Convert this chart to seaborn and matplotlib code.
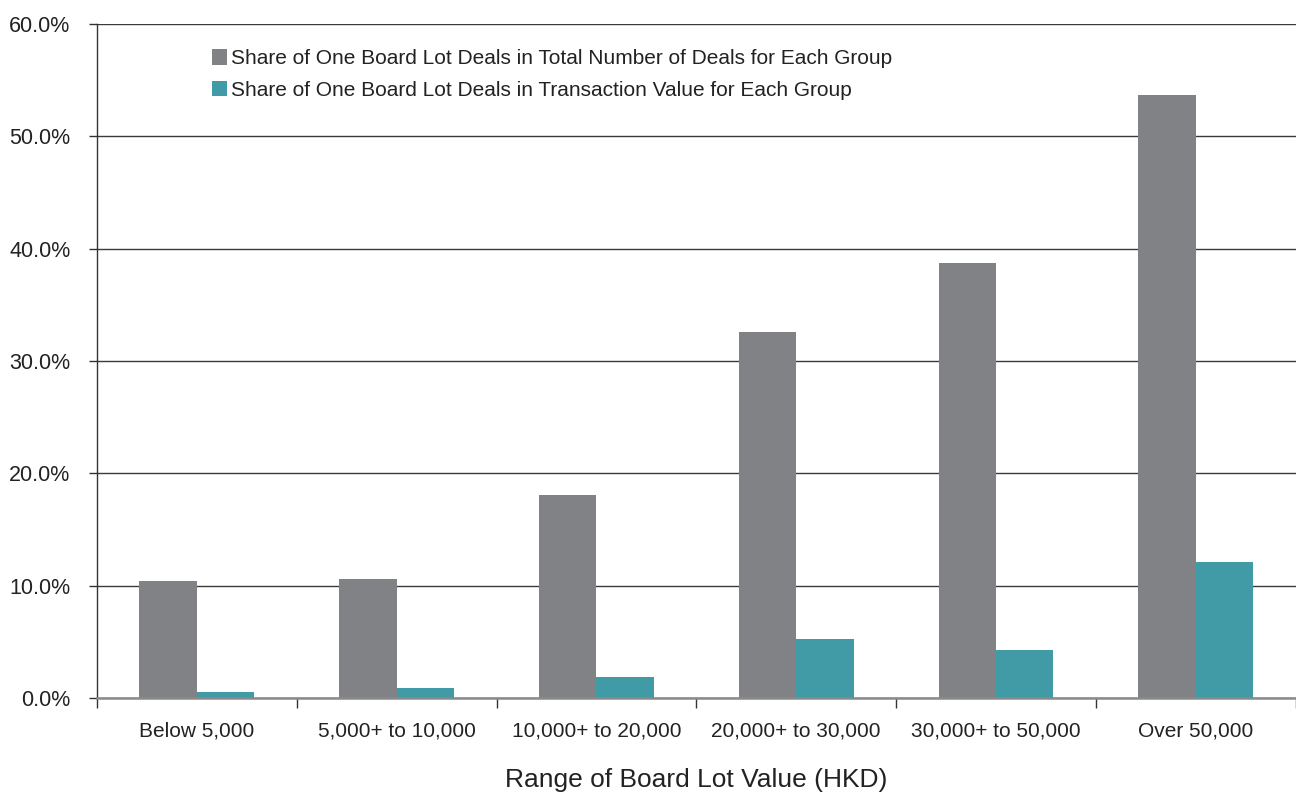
import pandas as pd
import numpy as np
import seaborn as sns
import matplotlib.pyplot as plt
from matplotlib.ticker import PercentFormatter, FixedLocator

categories = ["Below 5,000", "5,000+ to 10,000", "10,000+ to 20,000",
              "20,000+ to 30,000", "30,000+ to 50,000", "Over 50,000"]
share_deals = [10.4, 10.6, 18.1, 32.6, 38.7, 53.7]
share_value = [0.55, 0.9, 1.85, 5.25, 4.25, 12.1]
series = ["Share of One Board Lot Deals in Total Number of Deals for Each Group",
          "Share of One Board Lot Deals in Transaction Value for Each Group"]
colors = ["#818286", "#409ba6"]

df = pd.DataFrame({
    "range": categories * 2,
    "share": share_deals + share_value,
    "series": [series[0]] * len(categories) + [series[1]] * len(categories),
})

sns.set_style("white")
plt.rcParams["font.family"] = ["Liberation Sans", "DejaVu Sans"]

fig = plt.figure(figsize=(12.96, 7.95), dpi=100)
ax = fig.add_axes([0.0748, 0.122, 0.925, 0.848])

sns.barplot(data=df, x="range", y="share", hue="series", palette=colors,
            width=0.575, saturation=1, linewidth=0, ax=ax,
            order=categories, hue_order=series)

ax.set_ylim(0, 60)
ax.set_xlim(-0.5, len(categories) - 0.5)
ax.set_yticks(np.arange(0, 61, 10))
ax.yaxis.set_major_formatter(PercentFormatter(decimals=1))
ax.yaxis.grid(True, color="#3a3a3a", linewidth=1)
ax.set_axisbelow(True)

# ticks between categories
ax.xaxis.set_minor_locator(FixedLocator(np.arange(-0.5, len(categories), 1)))
ax.tick_params(axis="x", which="major", length=0, pad=17, labelsize=15, colors="#222222")
ax.tick_params(axis="x", which="minor", length=7, width=1, color="#333333", bottom=True)
ax.tick_params(axis="y", length=6, width=1, color="#333333", left=True, labelsize=15.5,
               colors="#222222", pad=13)

for s in ["top", "right"]:
    ax.spines[s].set_visible(False)
ax.spines["left"].set_color("#333333")
ax.spines["left"].set_linewidth(1)
ax.spines["bottom"].set_color("#8a8a8a")
ax.spines["bottom"].set_linewidth(1.8)

ax.set_ylabel("")
ax.set_xlabel("Range of Board Lot Value (HKD)", fontsize=19, labelpad=20, color="#222222")

ax.legend(loc="upper left", bbox_to_anchor=(0.08, 0.99), frameon=False,
          fontsize=15, handlelength=0.75, handleheight=0.75, handletextpad=0.2,
          labelspacing=0.6, labelcolor="#222222")

fig.savefig("out.png", dpi=100)
